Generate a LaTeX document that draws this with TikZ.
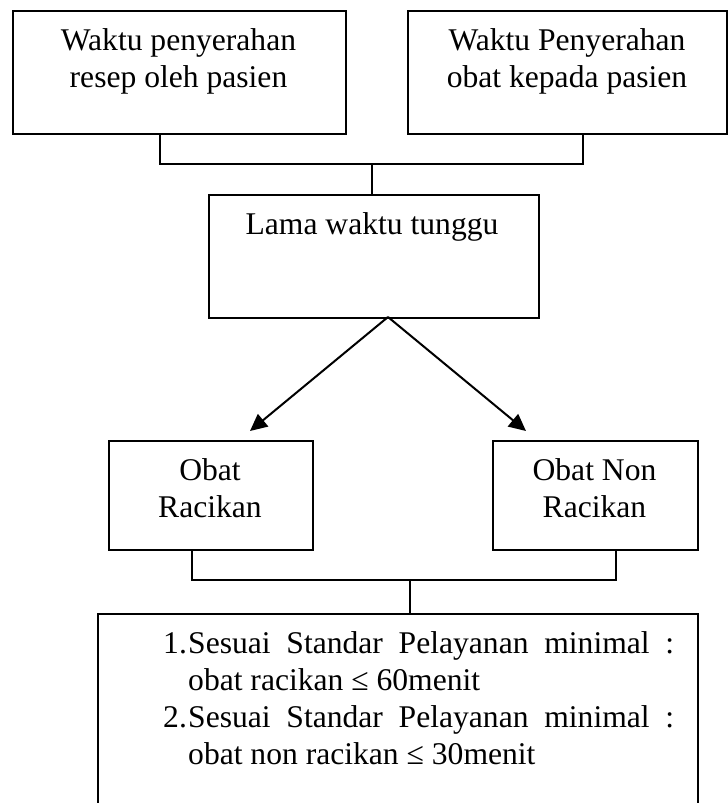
\documentclass[tikz,border=0pt]{standalone}
\usepackage{fontspec}
\setmainfont{Liberation Serif}
\usetikzlibrary{arrows.meta}
\tikzset{
  box/.style={draw, line width=2pt, inner sep=0pt, anchor=north west},
  lbl/.style={inner sep=0pt, align=center, font=\fontsize{31.6}{37}\selectfont},
  conn/.style={line width=2pt},
  arr/.style={line width=2pt, -{Triangle[length=17pt,width=16pt]}}
}
\begin{document}
\begin{tikzpicture}[x=1pt,y=-1pt]
\clip (0,0) rectangle (728,803);
\useasboundingbox (0,0) rectangle (728,803);
% boxes
\node[box, minimum width=333pt, minimum height=123pt] (b1) at (12,10) {};
\node[box, minimum width=319pt, minimum height=123pt] (b2) at (407,10) {};
\node[box, minimum width=330pt, minimum height=123pt] (b3) at (208,194) {};
\node[box, minimum width=204pt, minimum height=109pt] (b4) at (108,440) {};
\node[box, minimum width=205pt, minimum height=109pt] (b5) at (492,440) {};
\node[box, minimum width=600pt, minimum height=230pt] (b6) at (97,613) {};
% labels (anchor=base is the baseline of the last line)
\node[lbl, anchor=base] (t1) at (178.5,87) {Waktu penyerahan\\resep oleh pasien};
\node[lbl, anchor=base] (t2) at (567,87) {Waktu Penyerahan\\obat kepada pasien};
\node[lbl, anchor=base] (t3) at (372,234) {Lama waktu tunggu};
\node[lbl, anchor=base] (t4) at (210,517) {Obat\\Racikan};
\node[lbl, anchor=base] (t5) at (594.5,517) {Obat Non\\Racikan};
\node[inner sep=0pt, anchor=base west, font=\fontsize{31.6}{37}\selectfont] (t6) at (163,653) {%
  \renewcommand{\arraystretch}{1}%
  \begin{tabular}[t]{@{}l@{}l@{}}
  \makebox[25pt][l]{1.} & \makebox[486pt][s]{Sesuai Standar Pelayanan minimal :}\\
   & obat racikan ≤ 60menit\\
  \makebox[25pt][l]{2.} & \makebox[486pt][s]{Sesuai Standar Pelayanan minimal :}\\
   & obat non racikan ≤ 30menit
  \end{tabular}};
% connectors top
\coordinate (p1) at (160,164);
\coordinate (p2) at (583,164);
\coordinate (j1) at (372,164);
\draw[conn] (b1.south -| p1) -- (p1) -- (p2) -- (b2.south -| p2);
\draw[conn] (j1) -- (b3.north -| j1);
% arrows
\coordinate (a0) at (388,317);
\coordinate (q4) at (250,431);
\coordinate (q5) at (526,431);
\draw[arr] (a0) -- (q4);
\draw[arr] (a0) -- (q5);
% connectors bottom
\coordinate (r1) at (192,580);
\coordinate (r2) at (616,580);
\coordinate (j2) at (410,580);
\draw[conn] (b4.south -| r1) -- (r1) -- (r2) -- (b5.south -| r2);
\draw[conn] (j2) -- (b6.north -| j2);
\end{tikzpicture}
\end{document}
